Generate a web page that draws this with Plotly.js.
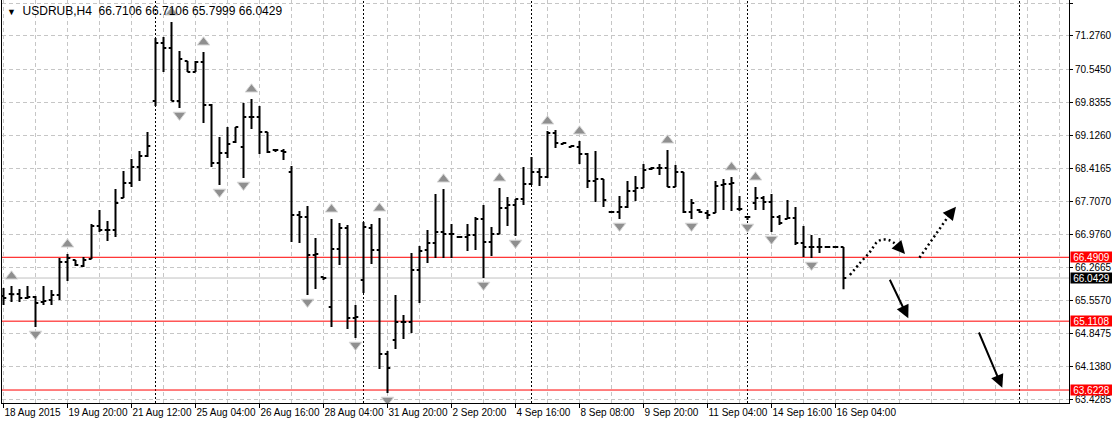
<!DOCTYPE html>
<html>
<head>
<meta charset="utf-8">
<script src="https://cdn.plot.ly/plotly-3.0.1.min.js"></script>
<style>html,body{margin:0;padding:0;background:#fff;overflow:hidden}#chart{width:1112px;height:421px}</style>
</head>
<body>
<div id="chart"></div>
<script>
// ---- data (USDRUB, H4) ----
const symbolName = "USDRUB,H4";
const openP = [
65.654,65.698,65.698,65.611,65.633,65.525,65.568,65.676,66.389,66.432,
66.303,66.454,67.167,67.081,67.081,67.772,68.096,68.442,68.679,69.868,
71.121,71.013,69.868,70.732,70.495,70.711,69.782,68.528,68.744,68.982,
68.874,69.522,69.522,69.198,68.809,68.788,68.334,67.405,67.361,66.540,
66.065,65.417,66.670,67.124,65.179,66.000,67.124,66.648,64.401,64.704,
65.093,65.093,66.216,66.648,66.800,67.037,66.994,66.929,66.929,66.972,
67.318,66.821,66.994,67.556,67.621,67.750,68.074,68.334,68.226,69.176,
68.939,68.874,68.874,68.723,68.139,68.182,67.469,67.469,67.577,67.923,
67.988,68.399,68.420,68.420,68.010,68.334,67.469,67.513,67.448,67.448,
68.053,68.074,67.534,67.361,67.664,67.772,67.686,67.361,67.318,67.340,
66.800,66.711,66.711,66.7106,66.7106,66.7106];
const highP = [
65.827,65.870,65.806,65.870,65.654,65.870,65.784,66.475,66.562,66.432,
66.497,67.210,67.513,67.275,67.966,68.355,68.615,68.788,69.198,71.229,
71.251,71.575,70.948,70.732,70.732,70.927,69.803,69.090,69.306,69.306,
69.825,69.911,69.760,69.198,68.831,68.831,68.463,67.491,67.599,66.908,
66.065,67.318,67.232,67.189,65.460,67.253,67.210,67.340,64.466,65.676,
65.244,66.584,66.735,67.081,67.858,67.966,67.210,66.929,67.210,67.361,
67.621,67.145,67.988,67.794,67.750,68.442,68.658,68.420,69.220,69.241,
68.982,68.917,69.004,68.744,68.788,68.182,67.491,67.815,68.139,68.247,
68.507,68.442,68.507,68.809,68.485,68.334,67.750,67.534,67.513,68.139,
68.182,68.226,67.815,67.361,68.010,67.815,67.858,67.405,67.729,67.577,
67.167,66.972,66.908,66.7106,66.7106,66.7106];
const lowP = [
65.460,65.525,65.525,65.590,64.985,65.460,65.460,65.568,65.979,66.303,
66.281,66.454,67.037,66.843,66.929,67.772,68.010,68.139,68.658,69.760,
70.495,69.868,69.717,70.495,70.495,69.393,68.442,68.053,68.636,68.960,
68.204,69.263,68.723,68.744,68.766,68.593,66.821,66.800,65.676,65.806,
66.000,64.985,66.324,64.941,64.747,65.719,66.346,64.077,63.558,64.509,
64.725,64.855,65.503,66.367,66.475,66.475,66.475,66.908,66.627,66.648,
66.043,66.519,66.994,67.167,66.951,67.621,68.053,68.031,68.204,68.852,
68.939,68.874,68.507,67.988,67.686,67.577,67.448,67.318,67.556,67.707,
67.988,68.377,68.269,68.010,68.010,67.448,67.318,67.448,67.318,67.448,
67.513,67.491,67.491,67.297,67.513,67.513,67.037,67.189,67.318,66.756,
66.497,66.475,66.584,66.7106,66.7106,65.7999];
const closeP = [
65.611,65.690,65.611,65.633,65.503,65.546,65.676,66.389,66.475,66.324,
66.432,67.167,67.081,67.081,67.664,68.096,68.442,68.679,68.896,71.121,
71.013,69.868,70.775,70.495,70.711,69.782,68.528,68.744,68.939,69.306,
69.522,69.522,69.198,68.766,68.809,68.766,67.405,67.361,66.540,66.562,
66.043,66.670,67.124,65.179,65.201,67.145,66.648,64.401,64.099,65.093,
65.093,66.216,66.627,66.800,67.037,66.994,66.994,66.929,66.972,67.318,
66.821,66.994,67.556,67.621,67.750,68.074,68.334,68.226,69.176,68.960,
68.960,68.896,68.723,68.139,68.182,67.729,67.469,67.577,67.923,67.988,
68.377,68.420,68.420,68.010,68.334,67.469,67.664,67.469,67.405,68.031,
68.074,68.096,67.534,67.361,67.772,67.686,67.361,67.232,67.340,66.800,
66.711,66.711,66.711,66.7106,66.7106,66.0429];

// fractal bars (bar index)
const fractalUp = [1,8,21,25,31,41,47,55,62,68,72,83,91,94];
const fractalDown = [4,22,27,30,38,44,48,60,64,77,86,93,96,101];

// week separators (bar index)
const weekStarts = [19,45,66,93,127];

// horizontal levels
const redLevels = [66.4909, 65.1108, 63.6228];

// axis ticks
const xTickIdx = [0,8,16,24,32,40,48,56,64,72,80,88,96,104];
const xTickLabels = ["18 Aug 2015","19 Aug 20:00","21 Aug 12:00","25 Aug 04:00","26 Aug 16:00",
  "28 Aug 04:00","31 Aug 20:00","2 Sep 20:00","4 Sep 16:00","8 Sep 08:00","9 Sep 20:00",
  "11 Sep 04:00","14 Sep 16:00","16 Sep 04:00"];
const yTicks = [71.9855,71.2760,70.5450,69.8355,69.1260,68.4165,67.7070,66.9760,66.2665,65.5570,64.8475,64.1380,63.4285];

// forecast drawings (bar index, price)
const curveX = [105.8,107.06,108.3,109.2,109.9,110.8,111.81];
const curveY = [66.108,66.368,66.605,66.821,66.875,66.854,66.735];
const curveTip = [112.69, 66.562];
const upDotX = [114.5, 118.2];
const upDotY = [66.482, 67.40];
const upDotTip = [119.06, 67.584];
const solidArrows = [
  {from:[110.7, 66.037], to:[113.1, 65.173]},
  {from:[121.85, 64.898], to:[124.85, 63.673]}
];

// ---- build ----
const idx = openP.map((_, i) => i);
const last = idx.length - 1;
const FONT = "Liberation Sans, Arial, sans-serif";
const gridColor = "#c6c6c6";
const gridDash = "4px,3px";

const traces = [];
traces.push({
  type: "ohlc", x: idx, open: openP, high: highP, low: lowP, close: closeP,
  increasing: {line: {color: "#000", width: 2}},
  decreasing: {line: {color: "#000", width: 2}},
  tickwidth: 0.35, hoverinfo: "skip", showlegend: false
});
traces.push({
  type: "scatter", mode: "markers", x: fractalUp, y: fractalUp.map(i => highP[i] + 0.21),
  marker: {symbol: "triangle-up", size: 11, color: "#8f8f8f", line: {color: "#d9d9d9", width: 1}},
  hoverinfo: "skip", showlegend: false
});
traces.push({
  type: "scatter", mode: "markers", x: fractalDown, y: fractalDown.map(i => lowP[i] - 0.15),
  marker: {symbol: "triangle-down", size: 11, color: "#8f8f8f", line: {color: "#d9d9d9", width: 1}},
  hoverinfo: "skip", showlegend: false
});
traces.push({
  type: "scatter", mode: "lines", x: curveX, y: curveY,
  line: {color: "#000", width: 2.5, dash: "2px,3px", shape: "spline"},
  hoverinfo: "skip", showlegend: false
});
traces.push({
  type: "scatter", mode: "lines", x: upDotX, y: upDotY,
  line: {color: "#000", width: 2.5, dash: "2px,3px"},
  hoverinfo: "skip", showlegend: false
});

const shapes = [];
weekStarts.forEach(w => shapes.push({
  type: "line", xref: "x", yref: "paper", x0: w, x1: w, y0: 0, y1: 1,
  line: {color: "#000", width: 1, dash: "2px,2px"}, layer: "between"
}));
redLevels.forEach(v => shapes.push({
  type: "line", xref: "paper", yref: "y", x0: 0, x1: 1, y0: v, y1: v,
  line: {color: "#ff0000", width: 1}, layer: "between"
}));
shapes.push({
  type: "line", xref: "paper", yref: "y", x0: 0, x1: 1, y0: closeP[last], y1: closeP[last],
  line: {color: "#c0c0c0", width: 1}, layer: "between"
});

const annotations = [];
const nb = "\u00a0";
annotations.push({
  xref: "paper", yref: "paper", x: 0, y: 1, xanchor: "left", yanchor: "top", xshift: 3, yshift: -2,
  showarrow: false, align: "left",
  text: '<span style="font-size:9px">▼</span>' + nb + nb + symbolName + nb + nb +
    [openP[last], highP[last], lowP[last], closeP[last]].map(v => v.toFixed(4)).join(nb),
  font: {family: FONT, size: 12, color: "#000"}
});
function priceLabel(v, bg) {
  return {
    xref: "paper", yref: "y", x: 1, y: v, xanchor: "left", yanchor: "middle", xshift: 1,
    showarrow: false, text: v.toFixed(4), bgcolor: bg, borderpad: 0, width: 41, height: 10,
    font: {family: FONT, size: 10, color: "#fff"}
  };
}
redLevels.forEach(v => annotations.push(priceLabel(v, "#ff0000")));
annotations.push(priceLabel(closeP[last], "#000"));

// arrowheads
const headStyle = {text: "", showarrow: true, arrowhead: 2, arrowsize: 1.3, arrowwidth: 2, arrowcolor: "#000", standoff: 0};
annotations.push(Object.assign({
  xref: "x", yref: "y", axref: "x", ayref: "y", x: curveTip[0], y: curveTip[1],
  ax: curveX[curveX.length - 1], ay: curveY[curveY.length - 1]
}, headStyle));
annotations.push(Object.assign({
  xref: "x", yref: "y", axref: "x", ayref: "y", x: upDotTip[0], y: upDotTip[1],
  ax: upDotX[1], ay: upDotY[1]
}, headStyle));
solidArrows.forEach(a => annotations.push(Object.assign({
  xref: "x", yref: "y", axref: "x", ayref: "y", x: a.to[0], y: a.to[1], ax: a.from[0], ay: a.from[1]
}, headStyle)));

const gridIdx = [];
for (let g = 0; g <= 132; g += 4) gridIdx.push(g);

const layout = {
  width: 1112, height: 421,
  margin: {l: 2, r: 43, t: 0, b: 18, pad: 0},
  paper_bgcolor: "#fff", plot_bgcolor: "#fff",
  showlegend: false,
  font: {family: FONT, size: 10, color: "#000"},
  xaxis: {
    range: [-0.1875, 133.1875], tickmode: "array", tickvals: xTickIdx, ticktext: xTickLabels,
    ticks: "outside", ticklen: 4, tickcolor: "#000", tickwidth: 1, tickangle: 0,
    ticklabelposition: "outside right",
    showline: true, linecolor: "#000", linewidth: 1, mirror: false,
    showgrid: true, gridcolor: gridColor, griddash: gridDash, gridwidth: 1,
    minor: {tickmode: "array", tickvals: gridIdx, showgrid: true, gridcolor: gridColor, griddash: gridDash, gridwidth: 1, ticks: ""},
    zeroline: false, rangeslider: {visible: false}, fixedrange: true,
    tickfont: {family: FONT, size: 10, color: "#000"}
  },
  yaxis: {
    side: "right", range: [63.3423, 72.0503], tickmode: "array", tickvals: yTicks,
    ticktext: yTicks.map(v => v.toFixed(4)),
    ticks: "outside", ticklen: 3, tickcolor: "#000",
    showline: true, linecolor: "#000", linewidth: 1, mirror: true,
    showgrid: true, gridcolor: gridColor, griddash: gridDash, gridwidth: 1,
    zeroline: false, fixedrange: true,
    tickfont: {family: FONT, size: 10, color: "#000"}
  },
  shapes: shapes,
  annotations: annotations
};

Plotly.newPlot("chart", traces, layout, {staticPlot: true, displayModeBar: false});
</script>
</body>
</html>
